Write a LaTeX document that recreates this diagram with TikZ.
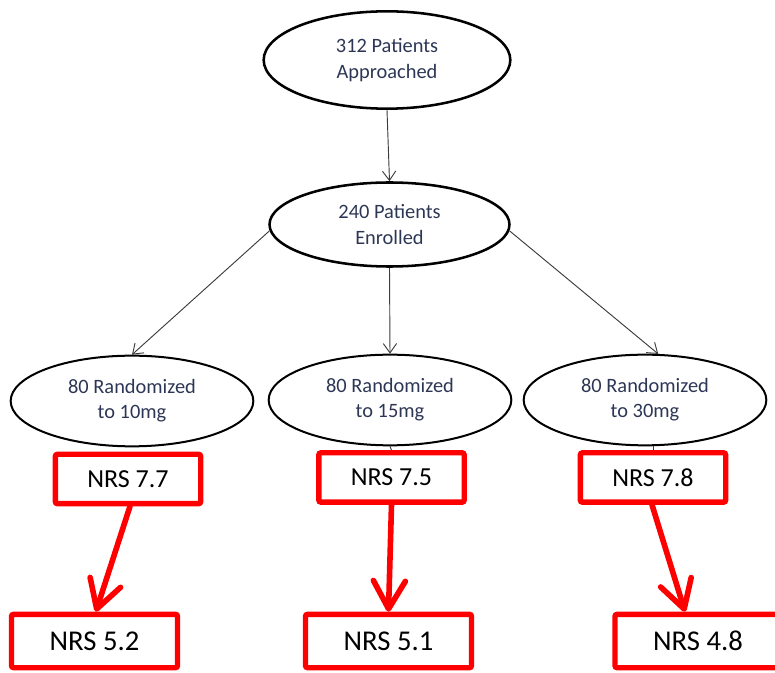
\documentclass[tikz,border=0pt]{standalone}
\usepackage{fontspec}
\setmainfont{Carlito}
\usetikzlibrary{shapes.geometric,arrows.meta}
\definecolor{txtblue}{RGB}{45,55,85}
\definecolor{lngray}{RGB}{60,60,60}
\definecolor{boxred}{RGB}{255,0,0}
\tikzset{
  ell/.style={ellipse, draw=black, text=txtblue, align=center, inner sep=0pt,
    font=\fontsize{15.3}{19}\selectfont},
  nrsbox/.style={rectangle, draw=boxred, line width=4pt, rounded corners=1.5pt,
    inner sep=0pt, text=black},
  nrstop/.style={nrsbox, minimum width=109pt, minimum height=37pt,
    font=\fontsize{19.5}{22}\selectfont},
  nrsbot/.style={nrsbox, minimum width=124.5pt, minimum height=40pt,
    font=\fontsize{21.5}{24}\selectfont},
  grayarrow/.style={draw=lngray, line width=0.7pt,
    -{Straight Barb[length=7pt,width=10pt]}},
  grayline/.style={draw=lngray, line width=0.7pt},
  redarrow/.style={draw=boxred, line width=4.2pt, line cap=round,
    -{Straight Barb[length=21pt,width=24pt,round]}}
}
\begin{document}
\begin{tikzpicture}[x=0.75pt,y=-0.75pt]
\useasboundingbox (0,0) rectangle (775,673);
\clip (0,0) rectangle (775,673);

% ellipses
\node[ell, line width=1.9pt, minimum width=185pt, minimum height=73pt] (e1) at (387,60)
  {312 Patients\\Approached};
\node[ell, line width=1.9pt, minimum width=180pt, minimum height=63pt] (e2) at (389.5,224.5)
  {240 Patients\\Enrolled};
\node[ell, line width=1.5pt, minimum width=182pt, minimum height=68pt] (r10) at (132,401)
  {80 Randomized\\to 10mg};
\node[ell, line width=1.5pt, minimum width=182pt, minimum height=68pt] (r15) at (390,400)
  {80 Randomized\\to 15mg};
\node[ell, line width=1.5pt, minimum width=182pt, minimum height=68pt] (r30) at (645,400)
  {80 Randomized\\to 30mg};

% red boxes
\node[nrstop] (b77) at (128,479) {NRS 7.7};
\node[nrstop] (b75) at (391.5,477.5) {NRS 7.5};
\node[nrstop] (b78) at (653,477.5) {NRS 7.8};
\node[nrsbot] (b52) at (94.5,641) {NRS 5.2};
\node[nrsbot] (b51) at (388.5,641) {NRS 5.1};
\node[nrsbot] (b48) at (698,641) {NRS 4.8};

% gray connectors
\draw[grayarrow] (e1.south) -- (e2.north);
\draw[grayarrow] (e2.183) -- (r10.north);
\draw[grayarrow] (e2.south) -- (r15.north);
\draw[grayarrow] (e2.357) -- (r30.74);
\draw[grayline] (r15.south) -- (b75.north);
\draw[grayline] (r30.south -| b78.north) -- (b78.north);

% red arrows
\draw[redarrow] ([xshift=1.5pt]b77.south) -- ([xshift=1pt]b52.north);
\draw[redarrow] (b75.south) -- (b51.north);
\draw[redarrow] ([xshift=-0.75pt]b78.south) -- ([xshift=-9.75pt]b48.north);
\end{tikzpicture}
\end{document}
